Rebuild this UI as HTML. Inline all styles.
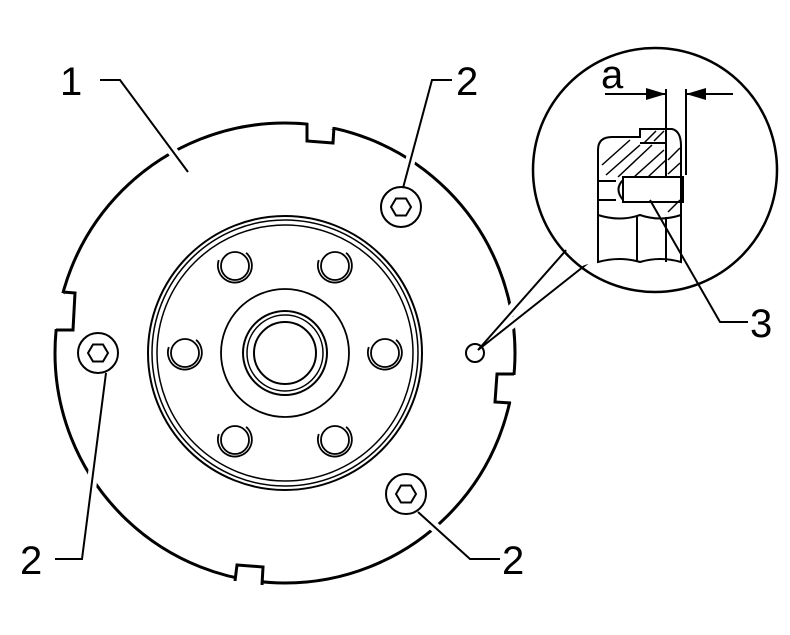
<!DOCTYPE html><html><head><style>body{margin:0;background:#fff}svg{display:block}</style></head><body>
<svg width="790" height="635" viewBox="0 0 790 635" xmlns="http://www.w3.org/2000/svg" font-family="Liberation Sans, sans-serif">
<defs>
<g id="h" fill="none" stroke="#000" stroke-width="1.8"><circle cx="0" cy="0" r="14"/><path d="M3,-17 A17,17 0 1 1 -17,3" transform="rotate(30)"/></g>
</defs>
<g fill="none" stroke="#000" stroke-width="3">
<circle cx="285" cy="353" r="230"/>
</g>
<g fill="#fff" stroke="none">
<rect x="308" y="115" width="26" height="14"/>
<rect x="47" y="293" width="17" height="36"/>
<rect x="506" y="375" width="16" height="27"/>
<rect x="236" y="572" width="27" height="18"/>
</g>
<g fill="none" stroke="#000" stroke-width="3" stroke-linejoin="miter">
<polyline points="307,123 307,141 333,143 334,127"/>
<polyline points="63,292 75,293 73,330 56,330"/>
<polyline points="514,374 497,374 495,402 511,403"/>
<polyline points="235,581 237,565 263,567 262,585"/>
</g>
<g fill="none" stroke="#fff" stroke-width="10">
<line x1="120" y1="80" x2="188" y2="172"/>
<line x1="432" y1="80" x2="403" y2="188"/>
<line x1="106" y1="373" x2="82" y2="559"/>
<line x1="418" y1="512" x2="470" y2="559"/>
<polyline points="560,252 478,350 586,266"/>
</g>
<g fill="none" stroke="#000" stroke-width="2">
<polyline points="100,80 120,80 188,172"/>
<polyline points="452,80 432,80 403,188"/>
<polyline points="55,559 82,559 106,373"/>
<polyline points="418,512 470,559 500,559"/>
<polyline points="568,248 478,350 588,263"/>
<polyline points="650,200 720,322 748,322"/>
</g>
<g fill="none" stroke="#000" stroke-width="2">
<circle cx="401" cy="207" r="20"/><polygon points="411,207 406,215.5 396,215.5 391,207 396,198.5 406,198.5"/>
<circle cx="98" cy="353" r="20"/><polygon points="108,353 103,361.5 93,361.5 88,353 93,344.5 103,344.5"/>
<circle cx="406" cy="494" r="20"/><polygon points="416,494 411,502.5 401,502.5 396,494 401,485.5 411,485.5"/>
<circle cx="475" cy="353" r="9"/>
<circle cx="285" cy="353" r="137"/>
<circle cx="285" cy="353" r="133" stroke-width="1.5"/>
<circle cx="285" cy="353" r="128" stroke-width="1.5"/>
<circle cx="285" cy="353" r="64" stroke-width="1.8"/>
<circle cx="285" cy="353" r="42"/>
<circle cx="285" cy="353" r="38" stroke-width="1.5"/>
<circle cx="285" cy="353" r="31"/>
</g>
<use href="#h" transform="translate(385,353)"/><use href="#h" transform="translate(185,353)"/>
<use href="#h" transform="translate(235,266)"/><use href="#h" transform="translate(335,266)"/>
<use href="#h" transform="translate(235,440)"/><use href="#h" transform="translate(335,440)"/>
<circle cx="655" cy="170" r="122" fill="none" stroke="#000" stroke-width="2.5"/>
<g fill="#fff" stroke="none"><polygon points="562,246 574,244 594,262 582,266"/></g>
<g fill="none" stroke="#000" stroke-width="2">
<path d="M598,262 L598,150 Q598,137 612,137 L640,137 L640,129 L672,129 Q681,131 681,146 L681,262 Q660,256 640,262 Q620,256 598,262 Z"/>
<line x1="640" y1="143" x2="666" y2="143"/>
<line x1="666" y1="89" x2="666" y2="178"/>
<line x1="686" y1="89" x2="686" y2="175"/>
<rect x="623" y="177" width="60" height="25"/>
<path d="M623,180 Q614,189 623,200"/>
<line x1="598" y1="181" x2="616" y2="181"/>
<line x1="598" y1="200" x2="616" y2="200"/>
<path d="M598,215 Q620,222 640,215 Q660,222 681,215"/>
<line x1="637" y1="217" x2="637" y2="262"/>
<line x1="666" y1="217" x2="666" y2="262"/>
<g stroke-width="1.5">
<line x1="602" y1="165" x2="630" y2="140"/><line x1="606" y1="175" x2="640" y2="145"/>
<line x1="618" y1="177" x2="652" y2="145"/><line x1="634" y1="177" x2="664" y2="150"/>
<line x1="648" y1="177" x2="666" y2="160"/><line x1="644" y1="143" x2="656" y2="131"/>
<line x1="668" y1="160" x2="680" y2="148"/><line x1="668" y1="174" x2="680" y2="163"/>
<line x1="668" y1="212" x2="680" y2="200"/><line x1="654" y1="141" x2="664" y2="131"/>
</g>
<line x1="605" y1="94" x2="666" y2="94"/><line x1="686" y1="94" x2="733" y2="94"/>
</g>
<polygon points="666,94 646,88 646,100" fill="#000"/>
<polygon points="686,94 706,88 706,100" fill="#000"/>
<g font-size="40" fill="#000">
<text x="60" y="95">1</text>
<text x="456" y="95">2</text>
<text x="20" y="574">2</text>
<text x="502" y="574">2</text>
<text x="750" y="337">3</text>
<text x="601" y="88">a</text>
</g>
</svg>
</body></html>
